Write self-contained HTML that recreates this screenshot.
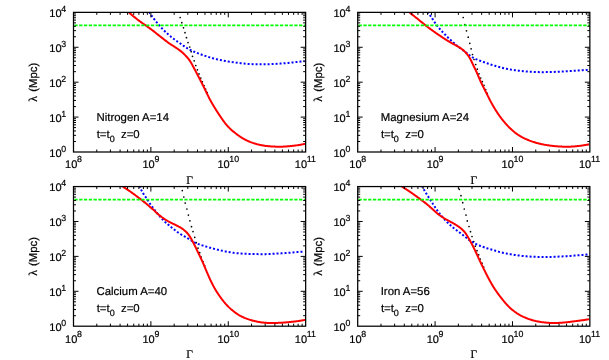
<!DOCTYPE html>
<html><head><meta charset="utf-8"><title>chart</title>
<style>
html,body{margin:0;padding:0;background:#fff;}
body{width:609px;height:360px;overflow:hidden;font-family:"Liberation Sans",sans-serif;}
svg{display:block;will-change:transform;}
text{font-family:"Liberation Sans",sans-serif;fill:#000;stroke:#000;stroke-width:0.2px;text-rendering:geometricPrecision;}
.tk{font-size:11.0px;}
.sp{font-size:8.8px;}
.lb{font-size:11.4px;}
.sb{font-size:9px;}
.sf{font-family:"Liberation Serif",serif;font-size:12px;}
.gm{font-family:"Liberation Serif",serif;font-size:11.5px;}
.ax{stroke:#000;stroke-width:1.25;fill:none;shape-rendering:auto;}
.t1{stroke:#000;stroke-width:1;fill:none;}
.r{stroke:#f00;stroke-width:2;fill:none;stroke-linejoin:round;}
.b{stroke:#00f;stroke-width:2;fill:none;stroke-dasharray:2 2;stroke-dashoffset:1;}
.g{stroke:#0f0;stroke-width:1.85;fill:none;stroke-dasharray:3.28 1.5;stroke-dashoffset:3.88;}
.k{fill:#000;}
</style></head><body>
<svg width="609" height="360" viewBox="0 0 609 360">
<rect width="609" height="360" fill="#fff"/>
<defs><clipPath id="cp"><rect x="73.5" y="12.36" width="232.14999999999998" height="139.64"/></clipPath></defs>

<g transform="translate(0,0)">
<g clip-path="url(#cp)">
<circle class="k" cx="180.2" cy="17.5" r="0.85"/>
<circle class="k" cx="181.8" cy="22.7" r="0.85"/>
<circle class="k" cx="183.5" cy="27.8" r="0.85"/>
<circle class="k" cx="185" cy="32.7" r="0.85"/>
<circle class="k" cx="186.5" cy="37.7" r="0.85"/>
<circle class="k" cx="188" cy="42.6" r="0.85"/>
<circle class="k" cx="189.7" cy="47" r="0.85"/>
<circle class="k" cx="191.2" cy="51.7" r="0.85"/>
<circle class="k" cx="192.5" cy="56.3" r="0.85"/>
<circle class="k" cx="194.2" cy="60.8" r="0.85"/>
<circle class="k" cx="195.8" cy="65.5" r="0.85"/>
<circle class="k" cx="197.4" cy="69.8" r="0.85"/>
<circle class="k" cx="199" cy="73.9" r="0.85"/>
<circle class="k" cx="200.8" cy="78.1" r="0.85"/>
<circle class="k" cx="202.4" cy="81.8" r="0.85"/>
<circle class="k" cx="204" cy="85.5" r="0.85"/>
<circle class="k" cx="205.6" cy="89.1" r="0.85"/>
<circle class="k" cx="207.2" cy="92.6" r="0.85"/>
<path class="b" d="M149.50,12.80 L149.93,13.42 L150.35,14.03 L150.78,14.65 L151.22,15.25 L151.66,15.86 L152.11,16.46 L152.56,17.06 L153.02,17.65 L153.48,18.24 L153.94,18.83 L154.41,19.42 L154.87,20.01 L155.34,20.59 L155.81,21.18 L156.28,21.77 L156.74,22.35 L157.21,22.94 L157.69,23.52 L158.16,24.10 L158.64,24.67 L159.12,25.25 L159.61,25.81 L160.11,26.38 L160.61,26.93 L161.12,27.49 L161.63,28.04 L162.14,28.58 L162.66,29.12 L163.19,29.65 L163.72,30.18 L164.26,30.71 L164.80,31.23 L165.34,31.74 L165.89,32.25 L166.44,32.76 L166.99,33.27 L167.55,33.77 L168.11,34.27 L168.67,34.76 L169.24,35.25 L169.81,35.74 L170.38,36.23 L170.96,36.71 L171.54,37.18 L172.12,37.65 L172.70,38.12 L173.29,38.58 L173.89,39.04 L174.49,39.49 L175.09,39.93 L175.70,40.37 L176.31,40.80 L176.93,41.22 L177.55,41.65 L178.17,42.06 L178.79,42.48 L179.41,42.90 L180.03,43.32 L180.65,43.75 L181.26,44.18 L181.87,44.62 L182.48,45.05 L183.08,45.49 L183.70,45.92 L184.31,46.35 L184.93,46.77 L185.55,47.18 L186.19,47.58 L186.82,47.97 L187.47,48.35 L188.12,48.72 L188.77,49.09 L189.43,49.44 L190.09,49.79 L190.76,50.13 L191.43,50.46 L192.11,50.79 L192.79,51.11 L193.47,51.43 L194.15,51.73 L194.84,52.03 L195.52,52.33 L196.22,52.62 L196.91,52.90 L197.61,53.17 L198.31,53.44 L199.01,53.70 L199.72,53.96 L200.42,54.21 L201.13,54.46 L201.84,54.71 L202.54,54.95 L203.25,55.20 L203.96,55.44 L204.67,55.68 L205.38,55.93 L206.09,56.17 L206.80,56.41 L207.51,56.65 L208.23,56.88 L208.94,57.11 L209.65,57.34 L210.37,57.56 L211.09,57.78 L211.81,57.99 L212.53,58.19 L213.25,58.39 L213.98,58.58 L214.70,58.76 L215.43,58.94 L216.16,59.12 L216.89,59.28 L217.62,59.45 L218.36,59.60 L219.09,59.76 L219.82,59.91 L220.56,60.06 L221.29,60.21 L222.03,60.36 L222.76,60.50 L223.50,60.65 L224.24,60.79 L224.97,60.93 L225.71,61.06 L226.45,61.20 L227.19,61.33 L227.93,61.45 L228.67,61.58 L229.41,61.69 L230.15,61.81 L230.89,61.92 L231.63,62.03 L232.37,62.13 L233.12,62.23 L233.86,62.33 L234.60,62.43 L235.35,62.53 L236.09,62.62 L236.83,62.72 L237.58,62.81 L238.32,62.91 L239.07,63.00 L239.81,63.09 L240.56,63.18 L241.30,63.27 L242.05,63.36 L242.79,63.44 L243.54,63.52 L244.28,63.60 L245.03,63.67 L245.78,63.73 L246.52,63.79 L247.27,63.85 L248.02,63.91 L248.77,63.96 L249.51,64.00 L250.26,64.04 L251.01,64.08 L251.76,64.11 L252.51,64.14 L253.26,64.17 L254.01,64.19 L254.76,64.21 L255.51,64.23 L256.26,64.24 L257.01,64.25 L257.76,64.26 L258.51,64.27 L259.26,64.28 L260.01,64.28 L260.76,64.29 L261.51,64.29 L262.26,64.29 L263.01,64.29 L263.76,64.29 L264.51,64.29 L265.26,64.28 L266.01,64.27 L266.76,64.26 L267.51,64.25 L268.26,64.23 L269.01,64.21 L269.76,64.18 L270.51,64.15 L271.25,64.12 L272.00,64.09 L272.75,64.05 L273.50,64.01 L274.25,63.97 L275.00,63.93 L275.75,63.88 L276.50,63.84 L277.25,63.79 L277.99,63.75 L278.74,63.70 L279.49,63.65 L280.24,63.59 L280.99,63.54 L281.73,63.48 L282.48,63.43 L283.23,63.37 L283.98,63.30 L284.72,63.24 L285.47,63.17 L286.22,63.11 L286.96,63.04 L287.71,62.97 L288.46,62.89 L289.20,62.82 L289.95,62.74 L290.70,62.67 L291.44,62.58 L292.19,62.50 L292.93,62.42 L293.68,62.33 L294.42,62.25 L295.17,62.16 L295.91,62.08 L296.66,62.00 L297.40,61.92 L298.15,61.84 L298.90,61.76 L299.64,61.68 L300.39,61.61 L301.13,61.54 L301.88,61.47 L302.63,61.40 L303.37,61.33 L304.12,61.26 L304.62,61.21"/>
<path class="r" d="M128.75,12.30 L129.32,12.79 L129.89,13.28 L130.46,13.77 L131.03,14.25 L131.60,14.74 L132.17,15.23 L132.74,15.71 L133.32,16.19 L133.90,16.67 L134.48,17.14 L135.06,17.62 L135.64,18.09 L136.23,18.55 L136.82,19.02 L137.41,19.48 L138.00,19.94 L138.60,20.39 L139.20,20.84 L139.80,21.29 L140.41,21.73 L141.01,22.17 L141.62,22.60 L142.24,23.04 L142.85,23.47 L143.46,23.90 L144.08,24.33 L144.69,24.76 L145.31,25.18 L145.93,25.61 L146.54,26.04 L147.15,26.48 L147.76,26.91 L148.38,27.34 L148.98,27.78 L149.59,28.22 L150.20,28.66 L150.81,29.10 L151.41,29.55 L152.01,30.00 L152.61,30.45 L153.21,30.90 L153.80,31.36 L154.39,31.82 L154.98,32.28 L155.57,32.75 L156.15,33.22 L156.73,33.69 L157.32,34.16 L157.90,34.63 L158.49,35.10 L159.08,35.56 L159.67,36.03 L160.26,36.49 L160.85,36.95 L161.44,37.41 L162.03,37.87 L162.62,38.34 L163.21,38.80 L163.80,39.26 L164.39,39.73 L164.98,40.19 L165.57,40.65 L166.17,41.10 L166.76,41.55 L167.37,42.00 L167.97,42.44 L168.58,42.88 L169.20,43.30 L169.82,43.73 L170.44,44.14 L171.06,44.56 L171.69,44.97 L172.32,45.38 L172.95,45.78 L173.58,46.19 L174.21,46.60 L174.84,47.00 L175.47,47.41 L176.10,47.82 L176.73,48.23 L177.35,48.65 L177.96,49.07 L178.57,49.51 L179.18,49.95 L179.78,50.40 L180.36,50.86 L180.95,51.33 L181.52,51.81 L182.08,52.30 L182.64,52.80 L183.19,53.31 L183.74,53.82 L184.28,54.34 L184.81,54.87 L185.34,55.40 L185.86,55.94 L186.37,56.48 L186.88,57.03 L187.37,57.59 L187.86,58.16 L188.33,58.74 L188.78,59.33 L189.23,59.94 L189.66,60.55 L190.07,61.17 L190.48,61.79 L190.87,62.43 L191.26,63.07 L191.63,63.72 L192.00,64.37 L192.37,65.03 L192.73,65.69 L193.08,66.34 L193.43,67.01 L193.79,67.67 L194.14,68.33 L194.48,69.00 L194.83,69.66 L195.18,70.33 L195.53,70.99 L195.87,71.65 L196.22,72.32 L196.57,72.98 L196.91,73.65 L197.26,74.32 L197.61,74.98 L197.95,75.65 L198.30,76.31 L198.64,76.98 L198.99,77.64 L199.34,78.31 L199.68,78.97 L200.03,79.64 L200.37,80.31 L200.72,80.97 L201.06,81.64 L201.40,82.31 L201.75,82.97 L202.09,83.64 L202.43,84.31 L202.77,84.98 L203.10,85.65 L203.44,86.32 L203.77,86.99 L204.10,87.66 L204.43,88.34 L204.76,89.01 L205.09,89.69 L205.41,90.36 L205.74,91.04 L206.06,91.71 L206.39,92.39 L206.71,93.06 L207.04,93.74 L207.37,94.41 L207.70,95.09 L208.03,95.76 L208.36,96.43 L208.70,97.10 L209.04,97.77 L209.38,98.44 L209.73,99.10 L210.08,99.76 L210.44,100.42 L210.80,101.08 L211.16,101.74 L211.53,102.39 L211.90,103.04 L212.28,103.69 L212.66,104.34 L213.04,104.98 L213.42,105.63 L213.81,106.27 L214.20,106.91 L214.59,107.55 L214.98,108.19 L215.38,108.83 L215.78,109.46 L216.18,110.09 L216.58,110.73 L216.98,111.36 L217.39,111.99 L217.80,112.62 L218.21,113.24 L218.62,113.87 L219.04,114.50 L219.45,115.12 L219.87,115.74 L220.29,116.36 L220.71,116.99 L221.13,117.61 L221.56,118.23 L221.98,118.84 L222.41,119.46 L222.84,120.07 L223.27,120.68 L223.71,121.29 L224.16,121.90 L224.60,122.50 L225.06,123.09 L225.53,123.68 L226.00,124.26 L226.48,124.83 L226.97,125.40 L227.47,125.96 L227.97,126.51 L228.49,127.05 L229.01,127.58 L229.54,128.11 L230.08,128.63 L230.63,129.15 L231.18,129.65 L231.74,130.16 L232.30,130.65 L232.87,131.14 L233.44,131.62 L234.02,132.10 L234.60,132.57 L235.19,133.04 L235.78,133.50 L236.37,133.95 L236.97,134.41 L237.57,134.85 L238.18,135.30 L238.79,135.73 L239.40,136.16 L240.02,136.59 L240.64,137.00 L241.27,137.41 L241.90,137.81 L242.54,138.20 L243.18,138.58 L243.83,138.95 L244.49,139.31 L245.15,139.66 L245.82,140.00 L246.49,140.33 L247.17,140.65 L247.85,140.96 L248.54,141.25 L249.23,141.54 L249.92,141.82 L250.62,142.10 L251.32,142.36 L252.03,142.61 L252.74,142.86 L253.45,143.10 L254.16,143.33 L254.88,143.55 L255.59,143.77 L256.31,143.97 L257.03,144.18 L257.76,144.37 L258.48,144.55 L259.21,144.73 L259.94,144.90 L260.67,145.05 L261.41,145.20 L262.14,145.34 L262.88,145.47 L263.62,145.59 L264.36,145.70 L265.11,145.80 L265.85,145.89 L266.59,145.98 L267.34,146.06 L268.08,146.14 L268.83,146.21 L269.58,146.27 L270.33,146.33 L271.07,146.39 L271.82,146.44 L272.57,146.49 L273.32,146.54 L274.07,146.58 L274.81,146.62 L275.56,146.65 L276.31,146.68 L277.06,146.70 L277.81,146.72 L278.56,146.73 L279.31,146.73 L280.06,146.73 L280.81,146.72 L281.56,146.70 L282.31,146.67 L283.06,146.64 L283.80,146.60 L284.55,146.55 L285.30,146.50 L286.05,146.45 L286.80,146.39 L287.54,146.33 L288.29,146.27 L289.04,146.20 L289.78,146.13 L290.53,146.06 L291.28,145.99 L292.02,145.91 L292.77,145.83 L293.51,145.75 L294.26,145.66 L295.00,145.57 L295.75,145.47 L296.49,145.37 L297.23,145.27 L297.97,145.16 L298.72,145.04 L299.46,144.92 L300.19,144.80 L300.93,144.67 L301.67,144.53 L302.41,144.39 L303.14,144.25 L303.88,144.10 L304.61,143.95 L305.10,143.85"/>
<path class="g" d="M73.5,25.4H305.65"/>
</g>
<path class="t1" d="M96.79,152v-2.5M96.79,12.36v2.5M110.42,152v-2.5M110.42,12.36v2.5M120.09,152v-2.5M120.09,12.36v2.5M127.59,152v-2.5M127.59,12.36v2.5M133.72,152v-2.5M133.72,12.36v2.5M138.9,152v-2.5M138.9,12.36v2.5M143.38,152v-2.5M143.38,12.36v2.5M147.34,152v-2.5M147.34,12.36v2.5M150.88,152v-5.0M150.88,12.36v5.0M174.18,152v-2.5M174.18,12.36v2.5M187.8,152v-2.5M187.8,12.36v2.5M197.47,152v-2.5M197.47,12.36v2.5M204.97,152v-2.5M204.97,12.36v2.5M211.1,152v-2.5M211.1,12.36v2.5M216.28,152v-2.5M216.28,12.36v2.5M220.77,152v-2.5M220.77,12.36v2.5M224.73,152v-2.5M224.73,12.36v2.5M228.27,152v-5.0M228.27,12.36v5.0M251.56,152v-2.5M251.56,12.36v2.5M265.19,152v-2.5M265.19,12.36v2.5M274.86,152v-2.5M274.86,12.36v2.5M282.36,152v-2.5M282.36,12.36v2.5M288.48,152v-2.5M288.48,12.36v2.5M293.66,152v-2.5M293.66,12.36v2.5M298.15,152v-2.5M298.15,12.36v2.5M302.11,152v-2.5M302.11,12.36v2.5M73.5,141.49h2.5M305.65,141.49h-2.5M73.5,135.34h2.5M305.65,135.34h-2.5M73.5,130.98h2.5M305.65,130.98h-2.5M73.5,127.6h2.5M305.65,127.6h-2.5M73.5,124.83h2.5M305.65,124.83h-2.5M73.5,122.5h2.5M305.65,122.5h-2.5M73.5,120.47h2.5M305.65,120.47h-2.5M73.5,118.69h2.5M305.65,118.69h-2.5M73.5,117.09h5.0M305.65,117.09h-5.0M73.5,106.58h2.5M305.65,106.58h-2.5M73.5,100.43h2.5M305.65,100.43h-2.5M73.5,96.07h2.5M305.65,96.07h-2.5M73.5,92.69h2.5M305.65,92.69h-2.5M73.5,89.92h2.5M305.65,89.92h-2.5M73.5,87.59h2.5M305.65,87.59h-2.5M73.5,85.56h2.5M305.65,85.56h-2.5M73.5,83.78h2.5M305.65,83.78h-2.5M73.5,82.18h5.0M305.65,82.18h-5.0M73.5,71.67h2.5M305.65,71.67h-2.5M73.5,65.52h2.5M305.65,65.52h-2.5M73.5,61.16h2.5M305.65,61.16h-2.5M73.5,57.78h2.5M305.65,57.78h-2.5M73.5,55.01h2.5M305.65,55.01h-2.5M73.5,52.68h2.5M305.65,52.68h-2.5M73.5,50.65h2.5M305.65,50.65h-2.5M73.5,48.87h2.5M305.65,48.87h-2.5M73.5,47.27h5.0M305.65,47.27h-5.0M73.5,36.76h2.5M305.65,36.76h-2.5M73.5,30.61h2.5M305.65,30.61h-2.5M73.5,26.25h2.5M305.65,26.25h-2.5M73.5,22.87h2.5M305.65,22.87h-2.5M73.5,20.1h2.5M305.65,20.1h-2.5M73.5,17.77h2.5M305.65,17.77h-2.5M73.5,15.74h2.5M305.65,15.74h-2.5M73.5,13.96h2.5M305.65,13.96h-2.5"/>
<rect class="ax" x="73.5" y="12.36" width="232.15" height="139.64"/>
<text class="tk" x="49.3" y="157">10</text><text class="sp" x="61.24" y="152">0</text>
<text class="tk" x="49.3" y="122">10</text><text class="sp" x="61.24" y="117">1</text>
<text class="tk" x="49.3" y="87">10</text><text class="sp" x="61.24" y="82">2</text>
<text class="tk" x="49.3" y="52">10</text><text class="sp" x="61.24" y="47">3</text>
<text class="tk" x="49.3" y="17">10</text><text class="sp" x="61.24" y="12">4</text>
<text class="tk" x="65.09" y="168">10</text><text class="sp" x="77.02" y="162">8</text>
<text class="tk" x="142.47" y="168">10</text><text class="sp" x="154.4" y="162">9</text>
<text class="tk" x="217.41" y="168">10</text><text class="sp" x="229.34" y="162">10</text>
<text class="tk" x="294.79" y="168">10</text><text class="sp" x="306.72" y="162">11</text>
<text class="gm" text-anchor="middle" x="189.57" y="184.3">&#915;</text>
<text class="lb" text-anchor="middle" transform="translate(37.35,82.18) rotate(-90)"><tspan class="sf">&#955;</tspan><tspan dx="0.8"> (Mpc)</tspan></text>
<text class="lb" x="96.5" y="121">Nitrogen A=14</text>
<text class="lb" x="96.7" y="138">t=t<tspan class="sb" dy="3.6">0</tspan><tspan class="lb" dy="-3.6">&#160; z=0</tspan></text>
</g>
<g transform="translate(284.2,0)">
<g clip-path="url(#cp)">
<circle class="k" cx="179" cy="17.5" r="0.85"/>
<circle class="k" cx="180.6" cy="24.7" r="0.85"/>
<circle class="k" cx="182.3" cy="30.8" r="0.85"/>
<circle class="k" cx="184" cy="37.2" r="0.85"/>
<circle class="k" cx="185.6" cy="43.3" r="0.85"/>
<circle class="k" cx="186.9" cy="48.8" r="0.85"/>
<circle class="k" cx="188.3" cy="54.5" r="0.85"/>
<circle class="k" cx="189.8" cy="59.5" r="0.85"/>
<circle class="k" cx="191.5" cy="64.5" r="0.85"/>
<circle class="k" cx="193.1" cy="69.2" r="0.85"/>
<circle class="k" cx="194.8" cy="73.8" r="0.85"/>
<circle class="k" cx="196.5" cy="78" r="0.85"/>
<circle class="k" cx="198.1" cy="81.7" r="0.85"/>
<circle class="k" cx="199.8" cy="85.3" r="0.85"/>
<circle class="k" cx="201.5" cy="89.5" r="0.85"/>
<circle class="k" cx="203.1" cy="93.3" r="0.85"/>
<path class="b" d="M144.00,12.50 L144.42,13.12 L144.84,13.74 L145.26,14.36 L145.68,14.99 L146.10,15.61 L146.51,16.23 L146.93,16.86 L147.34,17.48 L147.76,18.11 L148.17,18.74 L148.58,19.36 L148.99,19.99 L149.39,20.62 L149.80,21.25 L150.21,21.88 L150.62,22.50 L151.04,23.13 L151.46,23.75 L151.89,24.36 L152.33,24.97 L152.78,25.57 L153.23,26.16 L153.70,26.75 L154.17,27.33 L154.65,27.90 L155.14,28.46 L155.64,29.03 L156.14,29.58 L156.65,30.14 L157.16,30.69 L157.67,31.24 L158.18,31.78 L158.69,32.33 L159.21,32.87 L159.73,33.42 L160.24,33.96 L160.76,34.50 L161.29,35.04 L161.81,35.57 L162.34,36.10 L162.87,36.63 L163.41,37.16 L163.94,37.68 L164.49,38.20 L165.03,38.71 L165.58,39.22 L166.13,39.73 L166.69,40.23 L167.24,40.74 L167.80,41.24 L168.36,41.73 L168.93,42.23 L169.49,42.73 L170.05,43.22 L170.62,43.71 L171.18,44.21 L171.75,44.70 L172.32,45.19 L172.89,45.67 L173.46,46.16 L174.04,46.64 L174.62,47.11 L175.20,47.58 L175.79,48.04 L176.39,48.50 L176.99,48.95 L177.59,49.39 L178.20,49.83 L178.81,50.27 L179.42,50.70 L180.02,51.14 L180.63,51.58 L181.23,52.02 L181.82,52.48 L182.41,52.94 L182.99,53.40 L183.57,53.87 L184.15,54.35 L184.73,54.81 L185.32,55.27 L185.91,55.72 L186.51,56.15 L187.13,56.57 L187.76,56.97 L188.40,57.35 L189.05,57.71 L189.71,58.06 L190.37,58.40 L191.05,58.72 L191.73,59.04 L192.41,59.34 L193.10,59.64 L193.79,59.93 L194.48,60.22 L195.18,60.49 L195.88,60.77 L196.58,61.03 L197.28,61.30 L197.98,61.55 L198.69,61.81 L199.39,62.06 L200.10,62.31 L200.81,62.56 L201.52,62.81 L202.23,63.05 L202.94,63.29 L203.65,63.53 L204.36,63.77 L205.07,64.01 L205.78,64.24 L206.50,64.47 L207.21,64.70 L207.93,64.93 L208.64,65.15 L209.36,65.37 L210.07,65.59 L210.79,65.81 L211.51,66.02 L212.23,66.23 L212.95,66.44 L213.67,66.64 L214.40,66.85 L215.12,67.04 L215.84,67.24 L216.57,67.43 L217.29,67.62 L218.02,67.81 L218.75,67.99 L219.47,68.17 L220.20,68.34 L220.93,68.51 L221.67,68.67 L222.40,68.82 L223.13,68.97 L223.87,69.11 L224.61,69.25 L225.35,69.38 L226.09,69.50 L226.83,69.62 L227.57,69.74 L228.31,69.85 L229.05,69.96 L229.79,70.06 L230.54,70.16 L231.28,70.27 L232.02,70.37 L232.77,70.46 L233.51,70.56 L234.25,70.66 L235.00,70.75 L235.74,70.84 L236.49,70.92 L237.23,71.01 L237.98,71.09 L238.72,71.16 L239.47,71.23 L240.22,71.29 L240.96,71.35 L241.71,71.41 L242.46,71.47 L243.21,71.52 L243.96,71.56 L244.70,71.61 L245.45,71.65 L246.20,71.70 L246.95,71.74 L247.70,71.78 L248.45,71.83 L249.20,71.87 L249.95,71.91 L250.70,71.95 L251.44,71.99 L252.19,72.02 L252.94,72.06 L253.69,72.09 L254.44,72.11 L255.19,72.13 L255.94,72.14 L256.69,72.15 L257.44,72.16 L258.19,72.16 L258.94,72.16 L259.69,72.15 L260.44,72.14 L261.19,72.13 L261.94,72.12 L262.69,72.10 L263.44,72.08 L264.19,72.07 L264.94,72.05 L265.69,72.03 L266.44,72.01 L267.19,71.98 L267.94,71.96 L268.69,71.93 L269.43,71.91 L270.18,71.88 L270.93,71.85 L271.68,71.82 L272.43,71.79 L273.18,71.76 L273.93,71.73 L274.68,71.69 L275.43,71.66 L276.18,71.62 L276.93,71.58 L277.68,71.55 L278.43,71.50 L279.17,71.46 L279.92,71.42 L280.67,71.37 L281.42,71.33 L282.17,71.28 L282.92,71.23 L283.67,71.18 L284.41,71.13 L285.16,71.08 L285.91,71.03 L286.66,70.98 L287.41,70.93 L288.15,70.87 L288.90,70.82 L289.65,70.76 L290.40,70.71 L291.15,70.65 L291.89,70.59 L292.64,70.54 L293.39,70.48 L294.14,70.43 L294.89,70.38 L295.63,70.32 L296.38,70.27 L297.13,70.23 L297.88,70.18 L298.63,70.13 L299.38,70.09 L300.13,70.04 L300.87,70.00 L301.62,69.96 L302.37,69.92 L303.12,69.88 L303.87,69.84 L304.37,69.81"/>
<path class="r" d="M125.40,12.50 L125.98,12.97 L126.57,13.44 L127.15,13.92 L127.73,14.39 L128.32,14.86 L128.90,15.32 L129.49,15.79 L130.08,16.26 L130.66,16.73 L131.25,17.19 L131.84,17.66 L132.43,18.12 L133.01,18.59 L133.60,19.06 L134.19,19.53 L134.77,20.00 L135.35,20.47 L135.94,20.94 L136.52,21.41 L137.11,21.88 L137.69,22.35 L138.27,22.82 L138.86,23.29 L139.44,23.76 L140.03,24.23 L140.61,24.70 L141.20,25.17 L141.78,25.64 L142.37,26.10 L142.96,26.56 L143.55,27.03 L144.15,27.48 L144.74,27.94 L145.34,28.39 L145.94,28.84 L146.54,29.29 L147.15,29.73 L147.76,30.17 L148.37,30.60 L148.98,31.04 L149.59,31.48 L150.20,31.91 L150.81,32.34 L151.42,32.78 L152.04,33.21 L152.65,33.64 L153.27,34.06 L153.88,34.49 L154.50,34.91 L155.13,35.33 L155.75,35.75 L156.37,36.16 L157.00,36.58 L157.62,36.99 L158.25,37.40 L158.87,37.82 L159.50,38.23 L160.13,38.64 L160.75,39.05 L161.38,39.46 L162.02,39.86 L162.65,40.26 L163.29,40.66 L163.93,41.05 L164.57,41.43 L165.22,41.81 L165.87,42.19 L166.52,42.56 L167.17,42.93 L167.83,43.29 L168.48,43.65 L169.14,44.00 L169.80,44.36 L170.47,44.71 L171.13,45.07 L171.78,45.43 L172.44,45.79 L173.09,46.16 L173.74,46.53 L174.39,46.91 L175.02,47.30 L175.66,47.70 L176.28,48.11 L176.90,48.54 L177.50,48.97 L178.10,49.42 L178.68,49.89 L179.25,50.36 L179.81,50.86 L180.35,51.37 L180.88,51.90 L181.39,52.44 L181.89,52.99 L182.37,53.56 L182.84,54.14 L183.30,54.73 L183.75,55.33 L184.18,55.94 L184.60,56.56 L185.01,57.18 L185.40,57.82 L185.78,58.46 L186.15,59.11 L186.50,59.77 L186.84,60.43 L187.16,61.10 L187.48,61.78 L187.80,62.46 L188.11,63.14 L188.43,63.81 L188.75,64.49 L189.07,65.17 L189.40,65.84 L189.73,66.52 L190.06,67.19 L190.39,67.86 L190.72,68.53 L191.05,69.21 L191.37,69.88 L191.69,70.56 L192.01,71.24 L192.31,71.92 L192.62,72.61 L192.92,73.30 L193.22,73.99 L193.51,74.68 L193.80,75.37 L194.09,76.06 L194.38,76.75 L194.68,77.44 L194.97,78.13 L195.27,78.82 L195.56,79.51 L195.87,80.19 L196.17,80.88 L196.48,81.56 L196.80,82.24 L197.11,82.92 L197.44,83.60 L197.76,84.27 L198.09,84.94 L198.42,85.62 L198.76,86.29 L199.09,86.96 L199.43,87.63 L199.77,88.30 L200.11,88.97 L200.45,89.64 L200.79,90.31 L201.13,90.97 L201.46,91.64 L201.80,92.31 L202.14,92.98 L202.48,93.65 L202.82,94.32 L203.16,94.99 L203.50,95.66 L203.84,96.33 L204.18,96.99 L204.52,97.66 L204.86,98.33 L205.20,99.00 L205.55,99.66 L205.89,100.33 L206.24,101.00 L206.58,101.66 L206.94,102.32 L207.29,102.98 L207.65,103.64 L208.01,104.30 L208.37,104.95 L208.74,105.61 L209.12,106.26 L209.50,106.90 L209.88,107.55 L210.27,108.19 L210.66,108.83 L211.05,109.47 L211.45,110.10 L211.85,110.73 L212.26,111.36 L212.67,111.99 L213.08,112.62 L213.50,113.24 L213.92,113.86 L214.34,114.48 L214.77,115.10 L215.20,115.71 L215.64,116.32 L216.08,116.93 L216.53,117.53 L216.98,118.13 L217.43,118.72 L217.89,119.32 L218.36,119.90 L218.82,120.49 L219.30,121.07 L219.77,121.65 L220.25,122.22 L220.74,122.80 L221.23,123.36 L221.73,123.93 L222.23,124.48 L222.73,125.04 L223.24,125.59 L223.76,126.13 L224.28,126.67 L224.80,127.20 L225.34,127.73 L225.87,128.25 L226.42,128.77 L226.97,129.28 L227.52,129.78 L228.08,130.28 L228.65,130.77 L229.22,131.25 L229.79,131.73 L230.38,132.20 L230.96,132.67 L231.56,133.13 L232.16,133.58 L232.76,134.02 L233.37,134.45 L233.99,134.87 L234.62,135.28 L235.25,135.68 L235.89,136.07 L236.53,136.45 L237.18,136.82 L237.84,137.18 L238.50,137.53 L239.17,137.87 L239.84,138.21 L240.51,138.53 L241.19,138.84 L241.88,139.15 L242.56,139.45 L243.25,139.74 L243.95,140.03 L244.64,140.30 L245.34,140.58 L246.04,140.84 L246.75,141.10 L247.45,141.35 L248.16,141.60 L248.87,141.84 L249.58,142.07 L250.30,142.29 L251.01,142.51 L251.73,142.72 L252.45,142.93 L253.18,143.13 L253.90,143.32 L254.63,143.50 L255.36,143.67 L256.09,143.84 L256.82,144.01 L257.55,144.17 L258.29,144.32 L259.02,144.47 L259.76,144.61 L260.50,144.74 L261.23,144.87 L261.97,145.00 L262.71,145.12 L263.45,145.24 L264.19,145.35 L264.94,145.46 L265.68,145.56 L266.42,145.66 L267.17,145.76 L267.91,145.85 L268.65,145.93 L269.40,146.01 L270.15,146.09 L270.89,146.16 L271.64,146.23 L272.39,146.29 L273.13,146.35 L273.88,146.40 L274.63,146.45 L275.38,146.50 L276.13,146.54 L276.88,146.58 L277.62,146.62 L278.37,146.65 L279.12,146.68 L279.87,146.70 L280.62,146.72 L281.37,146.73 L282.12,146.74 L282.87,146.74 L283.62,146.73 L284.37,146.72 L285.12,146.70 L285.87,146.67 L286.62,146.63 L287.36,146.59 L288.11,146.55 L288.86,146.50 L289.61,146.44 L290.36,146.38 L291.10,146.32 L291.85,146.25 L292.60,146.18 L293.34,146.10 L294.09,146.03 L294.83,145.94 L295.58,145.86 L296.32,145.76 L297.06,145.66 L297.81,145.56 L298.55,145.45 L299.29,145.34 L300.03,145.22 L300.77,145.09 L301.51,144.97 L302.25,144.83 L302.98,144.70 L303.72,144.56 L304.46,144.42 L304.95,144.33"/>
<path class="g" d="M73.5,25.4H305.65"/>
</g>
<path class="t1" d="M96.79,152v-2.5M96.79,12.36v2.5M110.42,152v-2.5M110.42,12.36v2.5M120.09,152v-2.5M120.09,12.36v2.5M127.59,152v-2.5M127.59,12.36v2.5M133.72,152v-2.5M133.72,12.36v2.5M138.9,152v-2.5M138.9,12.36v2.5M143.38,152v-2.5M143.38,12.36v2.5M147.34,152v-2.5M147.34,12.36v2.5M150.88,152v-5.0M150.88,12.36v5.0M174.18,152v-2.5M174.18,12.36v2.5M187.8,152v-2.5M187.8,12.36v2.5M197.47,152v-2.5M197.47,12.36v2.5M204.97,152v-2.5M204.97,12.36v2.5M211.1,152v-2.5M211.1,12.36v2.5M216.28,152v-2.5M216.28,12.36v2.5M220.77,152v-2.5M220.77,12.36v2.5M224.73,152v-2.5M224.73,12.36v2.5M228.27,152v-5.0M228.27,12.36v5.0M251.56,152v-2.5M251.56,12.36v2.5M265.19,152v-2.5M265.19,12.36v2.5M274.86,152v-2.5M274.86,12.36v2.5M282.36,152v-2.5M282.36,12.36v2.5M288.48,152v-2.5M288.48,12.36v2.5M293.66,152v-2.5M293.66,12.36v2.5M298.15,152v-2.5M298.15,12.36v2.5M302.11,152v-2.5M302.11,12.36v2.5M73.5,141.49h2.5M305.65,141.49h-2.5M73.5,135.34h2.5M305.65,135.34h-2.5M73.5,130.98h2.5M305.65,130.98h-2.5M73.5,127.6h2.5M305.65,127.6h-2.5M73.5,124.83h2.5M305.65,124.83h-2.5M73.5,122.5h2.5M305.65,122.5h-2.5M73.5,120.47h2.5M305.65,120.47h-2.5M73.5,118.69h2.5M305.65,118.69h-2.5M73.5,117.09h5.0M305.65,117.09h-5.0M73.5,106.58h2.5M305.65,106.58h-2.5M73.5,100.43h2.5M305.65,100.43h-2.5M73.5,96.07h2.5M305.65,96.07h-2.5M73.5,92.69h2.5M305.65,92.69h-2.5M73.5,89.92h2.5M305.65,89.92h-2.5M73.5,87.59h2.5M305.65,87.59h-2.5M73.5,85.56h2.5M305.65,85.56h-2.5M73.5,83.78h2.5M305.65,83.78h-2.5M73.5,82.18h5.0M305.65,82.18h-5.0M73.5,71.67h2.5M305.65,71.67h-2.5M73.5,65.52h2.5M305.65,65.52h-2.5M73.5,61.16h2.5M305.65,61.16h-2.5M73.5,57.78h2.5M305.65,57.78h-2.5M73.5,55.01h2.5M305.65,55.01h-2.5M73.5,52.68h2.5M305.65,52.68h-2.5M73.5,50.65h2.5M305.65,50.65h-2.5M73.5,48.87h2.5M305.65,48.87h-2.5M73.5,47.27h5.0M305.65,47.27h-5.0M73.5,36.76h2.5M305.65,36.76h-2.5M73.5,30.61h2.5M305.65,30.61h-2.5M73.5,26.25h2.5M305.65,26.25h-2.5M73.5,22.87h2.5M305.65,22.87h-2.5M73.5,20.1h2.5M305.65,20.1h-2.5M73.5,17.77h2.5M305.65,17.77h-2.5M73.5,15.74h2.5M305.65,15.74h-2.5M73.5,13.96h2.5M305.65,13.96h-2.5"/>
<rect class="ax" x="73.5" y="12.36" width="232.15" height="139.64"/>
<text class="tk" x="49.3" y="157">10</text><text class="sp" x="61.24" y="152">0</text>
<text class="tk" x="49.3" y="122">10</text><text class="sp" x="61.24" y="117">1</text>
<text class="tk" x="49.3" y="87">10</text><text class="sp" x="61.24" y="82">2</text>
<text class="tk" x="49.3" y="52">10</text><text class="sp" x="61.24" y="47">3</text>
<text class="tk" x="49.3" y="17">10</text><text class="sp" x="61.24" y="12">4</text>
<text class="tk" x="65.09" y="168">10</text><text class="sp" x="77.02" y="162">8</text>
<text class="tk" x="142.47" y="168">10</text><text class="sp" x="154.4" y="162">9</text>
<text class="tk" x="217.41" y="168">10</text><text class="sp" x="229.34" y="162">10</text>
<text class="tk" x="294.79" y="168">10</text><text class="sp" x="306.72" y="162">11</text>
<text class="gm" text-anchor="middle" x="189.57" y="184.3">&#915;</text>
<text class="lb" text-anchor="middle" transform="translate(37.35,82.18) rotate(-90)"><tspan class="sf">&#955;</tspan><tspan dx="0.8"> (Mpc)</tspan></text>
<text class="lb" x="96.5" y="121">Magnesium A=24</text>
<text class="lb" x="96.7" y="138">t=t<tspan class="sb" dy="3.6">0</tspan><tspan class="lb" dy="-3.6">&#160; z=0</tspan></text>
</g>
<g transform="translate(0,174.2)">
<g clip-path="url(#cp)">
<circle class="k" cx="182.3" cy="16.4" r="0.85"/>
<circle class="k" cx="183.8" cy="22.8" r="0.85"/>
<circle class="k" cx="185.2" cy="28.9" r="0.85"/>
<circle class="k" cx="186.9" cy="34.8" r="0.85"/>
<circle class="k" cx="188.4" cy="40.9" r="0.85"/>
<circle class="k" cx="189.9" cy="46.6" r="0.85"/>
<circle class="k" cx="191.5" cy="52.5" r="0.85"/>
<circle class="k" cx="193" cy="57.4" r="0.85"/>
<circle class="k" cx="194.7" cy="63.1" r="0.85"/>
<circle class="k" cx="196.3" cy="68.5" r="0.85"/>
<circle class="k" cx="198" cy="74" r="0.85"/>
<circle class="k" cx="199.7" cy="78.5" r="0.85"/>
<circle class="k" cx="201.3" cy="82.8" r="0.85"/>
<circle class="k" cx="203" cy="87.3" r="0.85"/>
<circle class="k" cx="204.7" cy="91.5" r="0.85"/>
<path class="b" d="M140.00,12.50 L140.25,13.20 L140.51,13.90 L140.78,14.60 L141.06,15.29 L141.36,15.97 L141.68,16.63 L142.02,17.29 L142.39,17.94 L142.77,18.58 L143.17,19.21 L143.58,19.83 L143.99,20.45 L144.42,21.07 L144.84,21.69 L145.26,22.31 L145.68,22.93 L146.10,23.55 L146.51,24.17 L146.92,24.80 L147.33,25.43 L147.73,26.06 L148.14,26.69 L148.54,27.32 L148.95,27.95 L149.37,28.58 L149.79,29.20 L150.21,29.82 L150.64,30.43 L151.07,31.04 L151.51,31.65 L151.95,32.26 L152.40,32.86 L152.85,33.46 L153.30,34.06 L153.76,34.65 L154.22,35.24 L154.68,35.83 L155.14,36.42 L155.61,37.01 L156.08,37.59 L156.55,38.18 L157.02,38.76 L157.50,39.34 L157.97,39.92 L158.45,40.50 L158.93,41.07 L159.42,41.65 L159.90,42.22 L160.39,42.78 L160.89,43.35 L161.39,43.91 L161.89,44.46 L162.40,45.01 L162.91,45.56 L163.43,46.10 L163.95,46.63 L164.48,47.16 L165.02,47.68 L165.57,48.20 L166.12,48.70 L166.68,49.20 L167.24,49.69 L167.81,50.17 L168.39,50.65 L168.97,51.13 L169.55,51.60 L170.13,52.08 L170.71,52.55 L171.29,53.03 L171.87,53.50 L172.45,53.97 L173.03,54.45 L173.62,54.92 L174.20,55.38 L174.79,55.85 L175.39,56.31 L175.98,56.76 L176.58,57.21 L177.18,57.66 L177.79,58.09 L178.41,58.52 L179.03,58.94 L179.65,59.35 L180.28,59.76 L180.92,60.15 L181.56,60.54 L182.20,60.92 L182.85,61.30 L183.50,61.67 L184.16,62.04 L184.81,62.41 L185.46,62.78 L186.11,63.15 L186.76,63.53 L187.40,63.91 L188.04,64.30 L188.68,64.69 L189.32,65.09 L189.95,65.49 L190.59,65.89 L191.22,66.28 L191.86,66.68 L192.50,67.06 L193.14,67.44 L193.80,67.80 L194.46,68.15 L195.12,68.49 L195.80,68.81 L196.48,69.11 L197.17,69.40 L197.86,69.68 L198.56,69.94 L199.27,70.19 L199.97,70.44 L200.69,70.67 L201.40,70.90 L202.11,71.13 L202.83,71.35 L203.55,71.58 L204.26,71.80 L204.98,72.02 L205.70,72.23 L206.41,72.45 L207.13,72.67 L207.85,72.88 L208.57,73.09 L209.29,73.30 L210.01,73.51 L210.73,73.71 L211.46,73.91 L212.18,74.11 L212.90,74.31 L213.63,74.50 L214.35,74.69 L215.08,74.88 L215.81,75.06 L216.53,75.25 L217.26,75.43 L217.99,75.60 L218.72,75.78 L219.45,75.95 L220.18,76.12 L220.91,76.28 L221.64,76.45 L222.38,76.61 L223.11,76.76 L223.84,76.92 L224.58,77.07 L225.31,77.21 L226.05,77.36 L226.79,77.50 L227.52,77.63 L228.26,77.76 L229.00,77.89 L229.74,78.01 L230.48,78.13 L231.22,78.25 L231.96,78.36 L232.71,78.47 L233.45,78.57 L234.19,78.67 L234.94,78.76 L235.68,78.85 L236.43,78.93 L237.17,79.01 L237.92,79.08 L238.66,79.15 L239.41,79.21 L240.16,79.27 L240.91,79.33 L241.65,79.38 L242.40,79.43 L243.15,79.48 L243.90,79.52 L244.65,79.56 L245.40,79.59 L246.15,79.62 L246.90,79.65 L247.65,79.68 L248.39,79.70 L249.14,79.73 L249.89,79.75 L250.64,79.77 L251.39,79.79 L252.14,79.81 L252.89,79.83 L253.64,79.84 L254.39,79.86 L255.14,79.88 L255.89,79.89 L256.64,79.91 L257.39,79.92 L258.14,79.93 L258.89,79.95 L259.64,79.96 L260.39,79.96 L261.14,79.97 L261.89,79.97 L262.64,79.97 L263.39,79.97 L264.14,79.96 L264.89,79.95 L265.64,79.93 L266.39,79.91 L267.14,79.88 L267.89,79.86 L268.64,79.83 L269.39,79.79 L270.14,79.76 L270.89,79.72 L271.63,79.68 L272.38,79.64 L273.13,79.60 L273.88,79.56 L274.63,79.52 L275.38,79.48 L276.13,79.44 L276.88,79.40 L277.63,79.36 L278.37,79.32 L279.12,79.27 L279.87,79.23 L280.62,79.19 L281.37,79.14 L282.12,79.10 L282.87,79.05 L283.61,79.00 L284.36,78.95 L285.11,78.90 L285.86,78.85 L286.61,78.79 L287.35,78.73 L288.10,78.68 L288.85,78.62 L289.60,78.56 L290.35,78.49 L291.09,78.43 L291.84,78.37 L292.59,78.30 L293.33,78.24 L294.08,78.17 L294.83,78.11 L295.58,78.04 L296.32,77.98 L297.07,77.92 L297.82,77.86 L298.57,77.80 L299.31,77.74 L300.06,77.68 L300.81,77.62 L301.56,77.56 L302.30,77.50 L303.05,77.44 L303.55,77.40"/>
<path class="r" d="M122.70,12.40 L123.34,12.80 L123.97,13.20 L124.60,13.60 L125.24,14.00 L125.87,14.41 L126.50,14.81 L127.12,15.22 L127.75,15.64 L128.37,16.06 L128.99,16.48 L129.61,16.90 L130.23,17.33 L130.84,17.76 L131.46,18.19 L132.07,18.62 L132.68,19.06 L133.28,19.50 L133.89,19.94 L134.49,20.39 L135.09,20.84 L135.70,21.28 L136.30,21.73 L136.90,22.18 L137.49,22.64 L138.09,23.09 L138.69,23.54 L139.29,24.00 L139.88,24.45 L140.48,24.91 L141.07,25.37 L141.66,25.83 L142.25,26.29 L142.84,26.75 L143.43,27.22 L144.02,27.69 L144.60,28.15 L145.19,28.63 L145.77,29.10 L146.35,29.58 L146.92,30.05 L147.50,30.53 L148.07,31.02 L148.65,31.50 L149.22,31.98 L149.79,32.47 L150.36,32.96 L150.93,33.44 L151.50,33.93 L152.06,34.43 L152.63,34.92 L153.19,35.42 L153.74,35.92 L154.30,36.43 L154.85,36.94 L155.40,37.45 L155.95,37.96 L156.50,38.47 L157.05,38.97 L157.61,39.47 L158.17,39.97 L158.73,40.46 L159.30,40.95 L159.88,41.43 L160.46,41.90 L161.05,42.36 L161.64,42.82 L162.25,43.26 L162.85,43.70 L163.47,44.13 L164.08,44.55 L164.71,44.97 L165.34,45.37 L165.97,45.77 L166.61,46.16 L167.26,46.54 L167.90,46.92 L168.56,47.29 L169.22,47.64 L169.88,47.99 L170.54,48.34 L171.21,48.68 L171.88,49.01 L172.56,49.33 L173.23,49.66 L173.91,49.98 L174.59,50.30 L175.27,50.63 L175.94,50.95 L176.61,51.28 L177.28,51.62 L177.95,51.96 L178.61,52.31 L179.27,52.67 L179.92,53.04 L180.57,53.41 L181.20,53.81 L181.83,54.21 L182.45,54.63 L183.06,55.06 L183.66,55.51 L184.24,55.97 L184.81,56.45 L185.37,56.94 L185.91,57.45 L186.43,57.98 L186.94,58.53 L187.43,59.08 L187.91,59.66 L188.37,60.24 L188.82,60.84 L189.25,61.45 L189.67,62.07 L190.07,62.70 L190.46,63.33 L190.85,63.98 L191.22,64.62 L191.59,65.28 L191.95,65.93 L192.30,66.59 L192.66,67.26 L193.01,67.92 L193.35,68.59 L193.69,69.25 L194.03,69.92 L194.37,70.59 L194.70,71.26 L195.03,71.94 L195.36,72.61 L195.69,73.28 L196.01,73.96 L196.34,74.64 L196.66,75.32 L196.98,75.99 L197.30,76.67 L197.63,77.34 L197.96,78.02 L198.28,78.69 L198.61,79.37 L198.95,80.04 L199.28,80.71 L199.61,81.39 L199.93,82.06 L200.26,82.74 L200.58,83.41 L200.90,84.09 L201.21,84.77 L201.52,85.46 L201.83,86.14 L202.14,86.82 L202.44,87.51 L202.74,88.20 L203.04,88.88 L203.34,89.57 L203.64,90.26 L203.94,90.95 L204.23,91.64 L204.53,92.33 L204.82,93.02 L205.12,93.71 L205.41,94.40 L205.70,95.09 L206.00,95.78 L206.29,96.47 L206.58,97.16 L206.87,97.85 L207.17,98.54 L207.46,99.23 L207.76,99.92 L208.05,100.61 L208.35,101.30 L208.65,101.98 L208.95,102.67 L209.26,103.36 L209.56,104.04 L209.87,104.72 L210.19,105.40 L210.50,106.08 L210.82,106.76 L211.15,107.44 L211.48,108.11 L211.81,108.78 L212.14,109.45 L212.48,110.12 L212.83,110.79 L213.18,111.45 L213.53,112.11 L213.89,112.77 L214.25,113.43 L214.62,114.08 L215.00,114.73 L215.38,115.37 L215.76,116.02 L216.15,116.66 L216.55,117.29 L216.95,117.93 L217.36,118.56 L217.77,119.18 L218.18,119.81 L218.60,120.43 L219.02,121.05 L219.45,121.66 L219.88,122.28 L220.32,122.89 L220.76,123.49 L221.21,124.10 L221.65,124.70 L222.11,125.29 L222.57,125.89 L223.03,126.48 L223.50,127.06 L223.97,127.65 L224.45,128.22 L224.93,128.80 L225.42,129.36 L225.91,129.93 L226.41,130.48 L226.92,131.03 L227.44,131.57 L227.96,132.11 L228.50,132.64 L229.03,133.16 L229.58,133.67 L230.13,134.18 L230.68,134.68 L231.24,135.18 L231.81,135.67 L232.38,136.15 L232.96,136.63 L233.54,137.10 L234.13,137.56 L234.73,138.02 L235.33,138.46 L235.94,138.90 L236.55,139.33 L237.17,139.75 L237.80,140.15 L238.43,140.55 L239.08,140.94 L239.72,141.31 L240.38,141.68 L241.04,142.03 L241.70,142.37 L242.37,142.70 L243.05,143.02 L243.73,143.33 L244.42,143.63 L245.11,143.91 L245.81,144.19 L246.50,144.46 L247.21,144.72 L247.91,144.97 L248.62,145.21 L249.34,145.44 L250.05,145.66 L250.77,145.87 L251.49,146.07 L252.21,146.27 L252.94,146.46 L253.67,146.64 L254.40,146.82 L255.12,146.99 L255.86,147.15 L256.59,147.31 L257.32,147.47 L258.06,147.61 L258.79,147.75 L259.53,147.88 L260.27,148.00 L261.01,148.11 L261.75,148.21 L262.50,148.31 L263.24,148.39 L263.99,148.47 L264.73,148.54 L265.48,148.59 L266.23,148.64 L266.97,148.69 L267.72,148.72 L268.47,148.74 L269.22,148.76 L269.97,148.78 L270.72,148.78 L271.47,148.79 L272.22,148.79 L272.97,148.78 L273.72,148.78 L274.47,148.77 L275.22,148.76 L275.97,148.74 L276.72,148.72 L277.47,148.69 L278.22,148.67 L278.97,148.63 L279.71,148.60 L280.46,148.56 L281.21,148.52 L281.96,148.48 L282.71,148.43 L283.46,148.38 L284.21,148.33 L284.95,148.28 L285.70,148.22 L286.45,148.16 L287.20,148.10 L287.94,148.03 L288.69,147.97 L289.44,147.89 L290.18,147.82 L290.93,147.74 L291.67,147.66 L292.42,147.58 L293.16,147.49 L293.91,147.40 L294.65,147.31 L295.40,147.22 L296.14,147.12 L296.88,147.02 L297.63,146.92 L298.37,146.81 L299.11,146.71 L299.85,146.59 L300.59,146.48 L301.34,146.36 L302.08,146.24 L302.82,146.12 L303.55,146.00 L304.29,145.87 L305.03,145.75 L305.28,145.70"/>
<path class="g" d="M73.5,25.4H305.65"/>
</g>
<path class="t1" d="M96.79,152v-2.5M96.79,12.36v2.5M110.42,152v-2.5M110.42,12.36v2.5M120.09,152v-2.5M120.09,12.36v2.5M127.59,152v-2.5M127.59,12.36v2.5M133.72,152v-2.5M133.72,12.36v2.5M138.9,152v-2.5M138.9,12.36v2.5M143.38,152v-2.5M143.38,12.36v2.5M147.34,152v-2.5M147.34,12.36v2.5M150.88,152v-5.0M150.88,12.36v5.0M174.18,152v-2.5M174.18,12.36v2.5M187.8,152v-2.5M187.8,12.36v2.5M197.47,152v-2.5M197.47,12.36v2.5M204.97,152v-2.5M204.97,12.36v2.5M211.1,152v-2.5M211.1,12.36v2.5M216.28,152v-2.5M216.28,12.36v2.5M220.77,152v-2.5M220.77,12.36v2.5M224.73,152v-2.5M224.73,12.36v2.5M228.27,152v-5.0M228.27,12.36v5.0M251.56,152v-2.5M251.56,12.36v2.5M265.19,152v-2.5M265.19,12.36v2.5M274.86,152v-2.5M274.86,12.36v2.5M282.36,152v-2.5M282.36,12.36v2.5M288.48,152v-2.5M288.48,12.36v2.5M293.66,152v-2.5M293.66,12.36v2.5M298.15,152v-2.5M298.15,12.36v2.5M302.11,152v-2.5M302.11,12.36v2.5M73.5,141.49h2.5M305.65,141.49h-2.5M73.5,135.34h2.5M305.65,135.34h-2.5M73.5,130.98h2.5M305.65,130.98h-2.5M73.5,127.6h2.5M305.65,127.6h-2.5M73.5,124.83h2.5M305.65,124.83h-2.5M73.5,122.5h2.5M305.65,122.5h-2.5M73.5,120.47h2.5M305.65,120.47h-2.5M73.5,118.69h2.5M305.65,118.69h-2.5M73.5,117.09h5.0M305.65,117.09h-5.0M73.5,106.58h2.5M305.65,106.58h-2.5M73.5,100.43h2.5M305.65,100.43h-2.5M73.5,96.07h2.5M305.65,96.07h-2.5M73.5,92.69h2.5M305.65,92.69h-2.5M73.5,89.92h2.5M305.65,89.92h-2.5M73.5,87.59h2.5M305.65,87.59h-2.5M73.5,85.56h2.5M305.65,85.56h-2.5M73.5,83.78h2.5M305.65,83.78h-2.5M73.5,82.18h5.0M305.65,82.18h-5.0M73.5,71.67h2.5M305.65,71.67h-2.5M73.5,65.52h2.5M305.65,65.52h-2.5M73.5,61.16h2.5M305.65,61.16h-2.5M73.5,57.78h2.5M305.65,57.78h-2.5M73.5,55.01h2.5M305.65,55.01h-2.5M73.5,52.68h2.5M305.65,52.68h-2.5M73.5,50.65h2.5M305.65,50.65h-2.5M73.5,48.87h2.5M305.65,48.87h-2.5M73.5,47.27h5.0M305.65,47.27h-5.0M73.5,36.76h2.5M305.65,36.76h-2.5M73.5,30.61h2.5M305.65,30.61h-2.5M73.5,26.25h2.5M305.65,26.25h-2.5M73.5,22.87h2.5M305.65,22.87h-2.5M73.5,20.1h2.5M305.65,20.1h-2.5M73.5,17.77h2.5M305.65,17.77h-2.5M73.5,15.74h2.5M305.65,15.74h-2.5M73.5,13.96h2.5M305.65,13.96h-2.5"/>
<rect class="ax" x="73.5" y="12.36" width="232.15" height="139.64"/>
<text class="tk" x="49.3" y="156.8">10</text><text class="sp" x="61.24" y="151.8">0</text>
<text class="tk" x="49.3" y="121.8">10</text><text class="sp" x="61.24" y="116.8">1</text>
<text class="tk" x="49.3" y="86.8">10</text><text class="sp" x="61.24" y="81.8">2</text>
<text class="tk" x="49.3" y="51.8">10</text><text class="sp" x="61.24" y="46.8">3</text>
<text class="tk" x="49.3" y="16.8">10</text><text class="sp" x="61.24" y="11.8">4</text>
<text class="tk" x="65.09" y="168.8">10</text><text class="sp" x="77.02" y="162.8">8</text>
<text class="tk" x="142.47" y="168.8">10</text><text class="sp" x="154.4" y="162.8">9</text>
<text class="tk" x="217.41" y="168.8">10</text><text class="sp" x="229.34" y="162.8">10</text>
<text class="tk" x="294.79" y="168.8">10</text><text class="sp" x="306.72" y="162.8">11</text>
<text class="gm" text-anchor="middle" x="189.57" y="184.3">&#915;</text>
<text class="lb" text-anchor="middle" transform="translate(37.35,82.18) rotate(-90)"><tspan class="sf">&#955;</tspan><tspan dx="0.8"> (Mpc)</tspan></text>
<text class="lb" x="96.5" y="120.8">Calcium A=40</text>
<text class="lb" x="96.7" y="137.8">t=t<tspan class="sb" dy="3.6">0</tspan><tspan class="lb" dy="-3.6">&#160; z=0</tspan></text>
</g>
<g transform="translate(284.2,174.2)">
<g clip-path="url(#cp)">
<circle class="k" cx="175.1" cy="15.1" r="0.85"/>
<circle class="k" cx="176.8" cy="21.5" r="0.85"/>
<circle class="k" cx="178.5" cy="28.5" r="0.85"/>
<circle class="k" cx="180.1" cy="34.8" r="0.85"/>
<circle class="k" cx="181.8" cy="40.9" r="0.85"/>
<circle class="k" cx="183.1" cy="46.7" r="0.85"/>
<circle class="k" cx="184.8" cy="52.3" r="0.85"/>
<circle class="k" cx="186.3" cy="57.5" r="0.85"/>
<circle class="k" cx="187.8" cy="62.3" r="0.85"/>
<circle class="k" cx="189.5" cy="67.3" r="0.85"/>
<circle class="k" cx="191.1" cy="72" r="0.85"/>
<circle class="k" cx="192.8" cy="76.5" r="0.85"/>
<circle class="k" cx="194.5" cy="80.6" r="0.85"/>
<circle class="k" cx="196.1" cy="84.8" r="0.85"/>
<circle class="k" cx="197.8" cy="89" r="0.85"/>
<circle class="k" cx="199.5" cy="92.8" r="0.85"/>
<path class="b" d="M138.10,12.50 L138.47,13.15 L138.83,13.81 L139.20,14.46 L139.57,15.11 L139.94,15.77 L140.32,16.41 L140.70,17.06 L141.08,17.71 L141.46,18.35 L141.85,18.99 L142.24,19.63 L142.64,20.27 L143.04,20.90 L143.44,21.54 L143.85,22.17 L144.25,22.80 L144.66,23.42 L145.07,24.05 L145.48,24.68 L145.89,25.31 L146.30,25.94 L146.70,26.57 L147.11,27.20 L147.51,27.83 L147.92,28.46 L148.32,29.10 L148.73,29.73 L149.13,30.36 L149.54,30.99 L149.95,31.62 L150.36,32.24 L150.78,32.87 L151.20,33.49 L151.62,34.11 L152.04,34.73 L152.47,35.34 L152.91,35.95 L153.34,36.56 L153.78,37.17 L154.23,37.77 L154.67,38.37 L155.13,38.97 L155.58,39.57 L156.05,40.16 L156.51,40.74 L156.99,41.32 L157.46,41.90 L157.95,42.48 L158.43,43.04 L158.93,43.61 L159.42,44.17 L159.93,44.72 L160.43,45.28 L160.95,45.82 L161.46,46.37 L161.98,46.91 L162.50,47.45 L163.03,47.98 L163.56,48.51 L164.10,49.04 L164.63,49.56 L165.18,50.08 L165.72,50.59 L166.27,51.09 L166.83,51.60 L167.39,52.09 L167.96,52.58 L168.53,53.06 L169.11,53.54 L169.69,54.01 L170.28,54.48 L170.87,54.94 L171.47,55.39 L172.07,55.84 L172.67,56.29 L173.27,56.74 L173.88,57.18 L174.48,57.62 L175.09,58.07 L175.69,58.51 L176.30,58.95 L176.90,59.39 L177.50,59.84 L178.10,60.30 L178.69,60.75 L179.28,61.22 L179.86,61.69 L180.44,62.16 L181.02,62.64 L181.59,63.12 L182.17,63.59 L182.75,64.07 L183.34,64.53 L183.93,64.99 L184.53,65.44 L185.13,65.88 L185.75,66.31 L186.37,66.73 L186.99,67.14 L187.63,67.54 L188.26,67.93 L188.91,68.30 L189.56,68.67 L190.22,69.03 L190.88,69.38 L191.55,69.72 L192.22,70.04 L192.90,70.36 L193.58,70.67 L194.27,70.96 L194.96,71.25 L195.66,71.53 L196.35,71.81 L197.06,72.07 L197.76,72.33 L198.46,72.59 L199.17,72.84 L199.88,73.08 L200.59,73.32 L201.30,73.55 L202.02,73.78 L202.73,74.00 L203.45,74.22 L204.17,74.44 L204.89,74.66 L205.60,74.87 L206.32,75.09 L207.04,75.30 L207.76,75.52 L208.48,75.73 L209.20,75.95 L209.91,76.17 L210.63,76.38 L211.35,76.60 L212.07,76.81 L212.79,77.03 L213.51,77.23 L214.23,77.44 L214.95,77.64 L215.68,77.83 L216.40,78.01 L217.13,78.19 L217.86,78.37 L218.59,78.54 L219.32,78.70 L220.05,78.86 L220.79,79.01 L221.52,79.16 L222.26,79.30 L223.00,79.45 L223.73,79.58 L224.47,79.72 L225.21,79.85 L225.95,79.98 L226.69,80.10 L227.43,80.23 L228.17,80.35 L228.91,80.47 L229.65,80.58 L230.39,80.69 L231.13,80.80 L231.87,80.91 L232.62,81.02 L233.36,81.12 L234.10,81.22 L234.84,81.32 L235.59,81.42 L236.33,81.51 L237.08,81.60 L237.82,81.69 L238.57,81.77 L239.31,81.85 L240.06,81.93 L240.80,82.00 L241.55,82.07 L242.30,82.13 L243.05,82.19 L243.79,82.25 L244.54,82.30 L245.29,82.35 L246.04,82.40 L246.79,82.44 L247.54,82.48 L248.29,82.52 L249.03,82.55 L249.78,82.58 L250.53,82.61 L251.28,82.64 L252.03,82.67 L252.78,82.69 L253.53,82.72 L254.28,82.74 L255.03,82.76 L255.78,82.78 L256.53,82.80 L257.28,82.81 L258.03,82.83 L258.78,82.84 L259.53,82.85 L260.28,82.86 L261.03,82.87 L261.78,82.87 L262.53,82.87 L263.28,82.86 L264.03,82.86 L264.78,82.84 L265.53,82.83 L266.28,82.81 L267.03,82.78 L267.78,82.75 L268.52,82.72 L269.27,82.69 L270.02,82.65 L270.77,82.62 L271.52,82.58 L272.27,82.54 L273.02,82.50 L273.77,82.46 L274.52,82.42 L275.27,82.38 L276.01,82.34 L276.76,82.29 L277.51,82.25 L278.26,82.21 L279.01,82.17 L279.76,82.13 L280.51,82.08 L281.26,82.04 L282.00,81.99 L282.75,81.94 L283.50,81.89 L284.25,81.84 L285.00,81.79 L285.75,81.74 L286.49,81.68 L287.24,81.63 L287.99,81.57 L288.74,81.51 L289.48,81.45 L290.23,81.39 L290.98,81.32 L291.73,81.26 L292.47,81.19 L293.22,81.13 L293.97,81.06 L294.72,81.00 L295.46,80.94 L296.21,80.87 L296.96,80.81 L297.70,80.75 L298.45,80.69 L299.20,80.63 L299.95,80.57 L300.69,80.51 L301.44,80.45 L302.19,80.39 L302.94,80.33 L303.69,80.27 L304.43,80.21"/>
<path class="r" d="M117.60,12.40 L118.24,12.79 L118.88,13.17 L119.53,13.56 L120.17,13.95 L120.80,14.35 L121.44,14.75 L122.07,15.15 L122.70,15.55 L123.33,15.96 L123.96,16.37 L124.58,16.79 L125.20,17.21 L125.82,17.63 L126.44,18.06 L127.06,18.49 L127.67,18.92 L128.28,19.35 L128.90,19.78 L129.51,20.21 L130.12,20.65 L130.73,21.08 L131.34,21.52 L131.95,21.95 L132.56,22.39 L133.17,22.83 L133.77,23.27 L134.38,23.72 L134.98,24.16 L135.59,24.60 L136.19,25.05 L136.80,25.49 L137.40,25.94 L138.00,26.39 L138.60,26.83 L139.20,27.29 L139.80,27.74 L140.39,28.20 L140.98,28.66 L141.57,29.13 L142.15,29.60 L142.73,30.07 L143.31,30.55 L143.89,31.03 L144.46,31.51 L145.04,31.99 L145.61,32.48 L146.18,32.97 L146.74,33.45 L147.31,33.95 L147.88,34.44 L148.44,34.94 L148.99,35.44 L149.55,35.94 L150.10,36.45 L150.65,36.95 L151.21,37.46 L151.76,37.97 L152.31,38.47 L152.87,38.97 L153.44,39.46 L154.01,39.93 L154.59,40.40 L155.19,40.86 L155.78,41.31 L156.39,41.75 L157.01,42.17 L157.63,42.59 L158.25,43.00 L158.89,43.40 L159.52,43.80 L160.16,44.19 L160.81,44.57 L161.46,44.94 L162.11,45.31 L162.76,45.68 L163.42,46.04 L164.08,46.39 L164.74,46.75 L165.40,47.10 L166.06,47.46 L166.72,47.82 L167.38,48.18 L168.03,48.54 L168.69,48.91 L169.34,49.28 L169.99,49.65 L170.63,50.03 L171.28,50.42 L171.92,50.81 L172.55,51.21 L173.18,51.61 L173.81,52.02 L174.43,52.44 L175.04,52.87 L175.64,53.32 L176.23,53.77 L176.81,54.24 L177.38,54.72 L177.94,55.22 L178.48,55.73 L179.01,56.26 L179.52,56.80 L180.01,57.35 L180.49,57.93 L180.94,58.51 L181.38,59.11 L181.80,59.73 L182.21,60.35 L182.61,60.99 L182.99,61.63 L183.37,62.27 L183.75,62.92 L184.12,63.57 L184.49,64.22 L184.87,64.87 L185.24,65.52 L185.62,66.17 L185.99,66.82 L186.36,67.47 L186.72,68.12 L187.08,68.78 L187.44,69.44 L187.79,70.10 L188.13,70.77 L188.47,71.44 L188.81,72.11 L189.14,72.78 L189.48,73.45 L189.81,74.12 L190.14,74.79 L190.47,75.47 L190.80,76.14 L191.12,76.82 L191.45,77.49 L191.77,78.17 L192.09,78.85 L192.40,79.53 L192.71,80.21 L193.02,80.90 L193.33,81.58 L193.64,82.26 L193.95,82.95 L194.25,83.63 L194.57,84.31 L194.88,84.99 L195.20,85.67 L195.51,86.35 L195.83,87.03 L196.16,87.71 L196.48,88.39 L196.80,89.06 L197.13,89.74 L197.46,90.41 L197.79,91.09 L198.12,91.76 L198.45,92.43 L198.78,93.11 L199.11,93.78 L199.44,94.45 L199.77,95.12 L200.11,95.80 L200.44,96.47 L200.78,97.14 L201.11,97.81 L201.45,98.48 L201.79,99.15 L202.12,99.82 L202.46,100.49 L202.81,101.15 L203.15,101.82 L203.49,102.49 L203.84,103.15 L204.19,103.82 L204.54,104.48 L204.89,105.14 L205.24,105.80 L205.60,106.46 L205.96,107.12 L206.32,107.78 L206.69,108.43 L207.06,109.08 L207.43,109.73 L207.81,110.38 L208.19,111.02 L208.58,111.67 L208.97,112.31 L209.36,112.95 L209.76,113.58 L210.17,114.21 L210.57,114.84 L210.99,115.47 L211.40,116.09 L211.82,116.71 L212.25,117.33 L212.68,117.94 L213.12,118.55 L213.56,119.16 L214.00,119.76 L214.45,120.37 L214.90,120.97 L215.35,121.56 L215.81,122.16 L216.27,122.75 L216.73,123.34 L217.19,123.93 L217.65,124.52 L218.12,125.11 L218.59,125.70 L219.06,126.28 L219.53,126.86 L220.01,127.44 L220.49,128.01 L220.98,128.58 L221.47,129.15 L221.97,129.71 L222.47,130.26 L222.98,130.81 L223.49,131.36 L224.02,131.89 L224.55,132.42 L225.08,132.94 L225.63,133.46 L226.18,133.97 L226.74,134.47 L227.30,134.96 L227.87,135.44 L228.45,135.92 L229.04,136.38 L229.63,136.84 L230.22,137.30 L230.83,137.74 L231.44,138.18 L232.05,138.60 L232.67,139.02 L233.30,139.43 L233.93,139.83 L234.57,140.22 L235.22,140.60 L235.87,140.97 L236.52,141.32 L237.19,141.67 L237.86,142.01 L238.53,142.33 L239.21,142.65 L239.89,142.95 L240.58,143.25 L241.27,143.54 L241.96,143.83 L242.66,144.10 L243.36,144.37 L244.06,144.63 L244.77,144.88 L245.48,145.13 L246.19,145.36 L246.90,145.59 L247.62,145.81 L248.34,146.02 L249.06,146.22 L249.78,146.41 L250.51,146.60 L251.24,146.78 L251.97,146.94 L252.70,147.10 L253.43,147.25 L254.17,147.39 L254.90,147.53 L255.64,147.65 L256.38,147.76 L257.13,147.87 L257.87,147.96 L258.61,148.05 L259.36,148.14 L260.10,148.22 L260.85,148.30 L261.59,148.38 L262.34,148.45 L263.08,148.52 L263.83,148.58 L264.57,148.63 L265.32,148.68 L266.07,148.71 L266.82,148.74 L267.57,148.76 L268.32,148.78 L269.06,148.78 L269.81,148.78 L270.56,148.78 L271.31,148.78 L272.06,148.77 L272.81,148.75 L273.56,148.73 L274.31,148.70 L275.06,148.66 L275.81,148.62 L276.55,148.57 L277.30,148.52 L278.05,148.45 L278.80,148.39 L279.54,148.32 L280.29,148.25 L281.03,148.17 L281.78,148.09 L282.53,148.02 L283.27,147.94 L284.02,147.86 L284.76,147.77 L285.51,147.69 L286.25,147.60 L287.00,147.51 L287.74,147.41 L288.48,147.32 L289.23,147.22 L289.97,147.12 L290.72,147.03 L291.46,146.93 L292.20,146.84 L292.95,146.74 L293.69,146.64 L294.43,146.55 L295.18,146.45 L295.92,146.35 L296.66,146.25 L297.41,146.15 L298.15,146.05 L298.89,145.94 L299.64,145.83 L300.38,145.73 L301.12,145.62 L301.86,145.51 L302.60,145.40 L303.34,145.29 L304.09,145.18 L304.83,145.07 L305.08,145.03"/>
<path class="g" d="M73.5,25.4H305.65"/>
</g>
<path class="t1" d="M96.79,152v-2.5M96.79,12.36v2.5M110.42,152v-2.5M110.42,12.36v2.5M120.09,152v-2.5M120.09,12.36v2.5M127.59,152v-2.5M127.59,12.36v2.5M133.72,152v-2.5M133.72,12.36v2.5M138.9,152v-2.5M138.9,12.36v2.5M143.38,152v-2.5M143.38,12.36v2.5M147.34,152v-2.5M147.34,12.36v2.5M150.88,152v-5.0M150.88,12.36v5.0M174.18,152v-2.5M174.18,12.36v2.5M187.8,152v-2.5M187.8,12.36v2.5M197.47,152v-2.5M197.47,12.36v2.5M204.97,152v-2.5M204.97,12.36v2.5M211.1,152v-2.5M211.1,12.36v2.5M216.28,152v-2.5M216.28,12.36v2.5M220.77,152v-2.5M220.77,12.36v2.5M224.73,152v-2.5M224.73,12.36v2.5M228.27,152v-5.0M228.27,12.36v5.0M251.56,152v-2.5M251.56,12.36v2.5M265.19,152v-2.5M265.19,12.36v2.5M274.86,152v-2.5M274.86,12.36v2.5M282.36,152v-2.5M282.36,12.36v2.5M288.48,152v-2.5M288.48,12.36v2.5M293.66,152v-2.5M293.66,12.36v2.5M298.15,152v-2.5M298.15,12.36v2.5M302.11,152v-2.5M302.11,12.36v2.5M73.5,141.49h2.5M305.65,141.49h-2.5M73.5,135.34h2.5M305.65,135.34h-2.5M73.5,130.98h2.5M305.65,130.98h-2.5M73.5,127.6h2.5M305.65,127.6h-2.5M73.5,124.83h2.5M305.65,124.83h-2.5M73.5,122.5h2.5M305.65,122.5h-2.5M73.5,120.47h2.5M305.65,120.47h-2.5M73.5,118.69h2.5M305.65,118.69h-2.5M73.5,117.09h5.0M305.65,117.09h-5.0M73.5,106.58h2.5M305.65,106.58h-2.5M73.5,100.43h2.5M305.65,100.43h-2.5M73.5,96.07h2.5M305.65,96.07h-2.5M73.5,92.69h2.5M305.65,92.69h-2.5M73.5,89.92h2.5M305.65,89.92h-2.5M73.5,87.59h2.5M305.65,87.59h-2.5M73.5,85.56h2.5M305.65,85.56h-2.5M73.5,83.78h2.5M305.65,83.78h-2.5M73.5,82.18h5.0M305.65,82.18h-5.0M73.5,71.67h2.5M305.65,71.67h-2.5M73.5,65.52h2.5M305.65,65.52h-2.5M73.5,61.16h2.5M305.65,61.16h-2.5M73.5,57.78h2.5M305.65,57.78h-2.5M73.5,55.01h2.5M305.65,55.01h-2.5M73.5,52.68h2.5M305.65,52.68h-2.5M73.5,50.65h2.5M305.65,50.65h-2.5M73.5,48.87h2.5M305.65,48.87h-2.5M73.5,47.27h5.0M305.65,47.27h-5.0M73.5,36.76h2.5M305.65,36.76h-2.5M73.5,30.61h2.5M305.65,30.61h-2.5M73.5,26.25h2.5M305.65,26.25h-2.5M73.5,22.87h2.5M305.65,22.87h-2.5M73.5,20.1h2.5M305.65,20.1h-2.5M73.5,17.77h2.5M305.65,17.77h-2.5M73.5,15.74h2.5M305.65,15.74h-2.5M73.5,13.96h2.5M305.65,13.96h-2.5"/>
<rect class="ax" x="73.5" y="12.36" width="232.15" height="139.64"/>
<text class="tk" x="49.3" y="156.8">10</text><text class="sp" x="61.24" y="151.8">0</text>
<text class="tk" x="49.3" y="121.8">10</text><text class="sp" x="61.24" y="116.8">1</text>
<text class="tk" x="49.3" y="86.8">10</text><text class="sp" x="61.24" y="81.8">2</text>
<text class="tk" x="49.3" y="51.8">10</text><text class="sp" x="61.24" y="46.8">3</text>
<text class="tk" x="49.3" y="16.8">10</text><text class="sp" x="61.24" y="11.8">4</text>
<text class="tk" x="65.09" y="168.8">10</text><text class="sp" x="77.02" y="162.8">8</text>
<text class="tk" x="142.47" y="168.8">10</text><text class="sp" x="154.4" y="162.8">9</text>
<text class="tk" x="217.41" y="168.8">10</text><text class="sp" x="229.34" y="162.8">10</text>
<text class="tk" x="294.79" y="168.8">10</text><text class="sp" x="306.72" y="162.8">11</text>
<text class="gm" text-anchor="middle" x="189.57" y="184.3">&#915;</text>
<text class="lb" text-anchor="middle" transform="translate(37.35,82.18) rotate(-90)"><tspan class="sf">&#955;</tspan><tspan dx="0.8"> (Mpc)</tspan></text>
<text class="lb" x="96.5" y="120.8">Iron A=56</text>
<text class="lb" x="96.7" y="137.8">t=t<tspan class="sb" dy="3.6">0</tspan><tspan class="lb" dy="-3.6">&#160; z=0</tspan></text>
</g>
</svg></body></html>
